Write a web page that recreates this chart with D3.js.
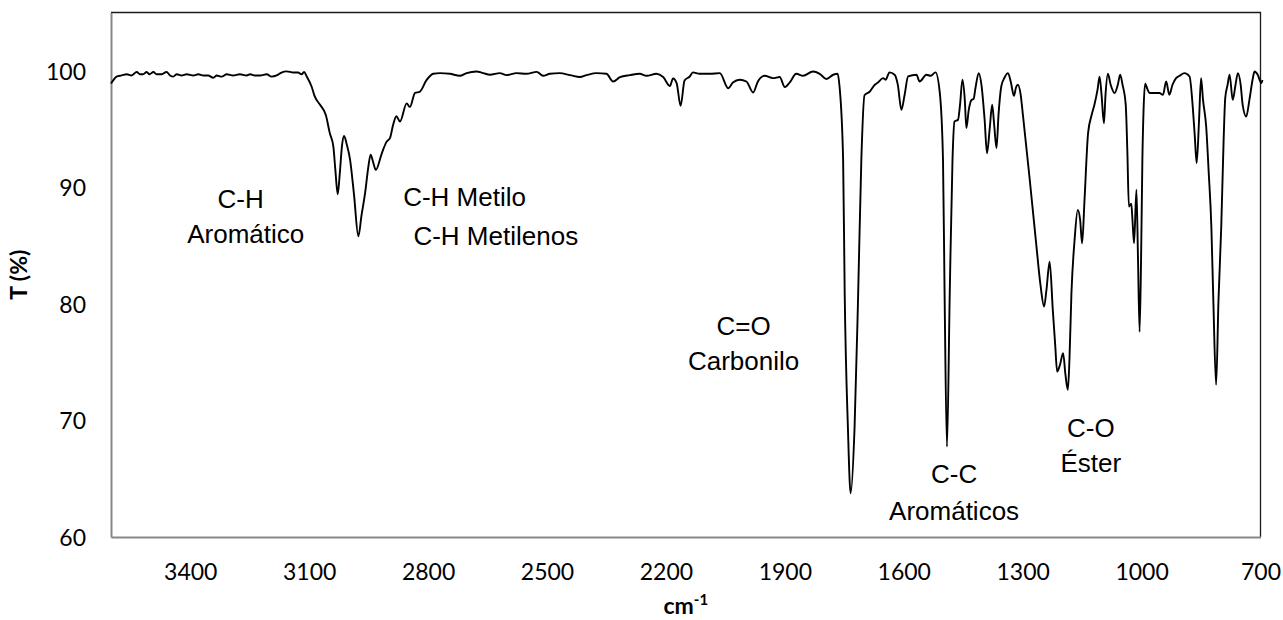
<!DOCTYPE html>
<html>
<head>
<meta charset="utf-8">
<script src="https://cdn.jsdelivr.net/npm/d3@7"></script>
<style>
  html, body { margin: 0; padding: 0; background: #fff; }
  svg { display: block; }
</style>
</head>
<body>
<svg id="chart" width="1283" height="620"></svg>
<script>
// FTIR spectrum: wavenumber (cm-1) and transmittance (%)
const wavenumber = [
  3600, 3594, 3586, 3573, 3560, 3548, 3535, 3527, 3519, 3510, 3503, 3493, 3485, 3472, 3460,
  3451, 3443, 3434, 3422, 3409, 3392, 3380, 3367, 3355, 3342, 3333, 3321, 3308, 3292, 3275,
  3258, 3249, 3237, 3224, 3207, 3195, 3182, 3170, 3157, 3140, 3128, 3119, 3113, 3106, 3094,
  3086, 3073, 3058, 3048, 3039, 3034, 3028, 3023, 3017, 3012, 3005, 2997, 2987, 2976, 2968,
  2959, 2951, 2945, 2939, 2932, 2917, 2905, 2896, 2888, 2880, 2871, 2854, 2846, 2833, 2821,
  2804, 2787, 2770, 2745, 2720, 2703, 2678, 2661, 2644, 2619, 2602, 2577, 2552, 2526, 2510,
  2493, 2468, 2442, 2417, 2400, 2375, 2350, 2333, 2316, 2291, 2266, 2249, 2224, 2207, 2190,
  2182, 2173, 2163, 2153, 2140, 2132, 2115, 2089, 2064, 2043, 2031, 2014, 1997, 1980, 1968,
  1951, 1930, 1913, 1900, 1888, 1871, 1854, 1829, 1812, 1795, 1778, 1767, 1762, 1753, 1749,
  1741, 1734, 1724, 1715, 1707, 1699, 1686, 1673, 1666, 1652, 1646, 1636, 1623, 1615, 1606,
  1598, 1589, 1568, 1560, 1543, 1532, 1520, 1509, 1501, 1497, 1491, 1484, 1477, 1472, 1463,
  1458, 1452, 1446, 1442, 1436, 1429, 1424, 1419, 1411, 1404, 1396, 1390, 1383, 1377, 1372,
  1366, 1361, 1354, 1346, 1337, 1330, 1322, 1317, 1312, 1305, 1299, 1283, 1266, 1255, 1246,
  1240, 1232, 1224, 1218, 1213, 1206, 1198, 1192, 1186, 1182, 1177, 1169, 1161, 1155, 1150,
  1144, 1135, 1126, 1119, 1111, 1106, 1101, 1095, 1091, 1085, 1078, 1068, 1060, 1054, 1048,
  1040, 1036, 1032, 1026, 1023, 1019, 1013, 1009, 1005, 1001, 998, 995, 991, 985, 980,
  967, 955, 946, 938, 930, 922, 913, 904, 892, 879, 871, 866, 861, 855, 850,
  845, 837, 831, 824, 819, 812, 806, 799, 793, 789, 783, 778, 770, 763, 757,
  750, 745, 736, 728, 720, 715, 707, 698, 695
];
const transmittance = [
  98.9, 99.2, 99.5, 99.6, 99.7, 99.6, 99.9, 99.7, 99.7, 99.9, 99.7, 99.9, 99.7, 99.7, 99.9,
  99.6, 99.5, 99.7, 99.6, 99.7, 99.6, 99.7, 99.6, 99.6, 99.4, 99.6, 99.5, 99.7, 99.6, 99.7,
  99.6, 99.7, 99.6, 99.6, 99.7, 99.5, 99.6, 99.85, 99.95, 99.85, 99.85, 99.7, 99.9, 99.5, 98.65,
  97.8, 97.1, 96.2, 94.65, 93.5, 91.5, 89.4, 91.1, 93.65, 94.4, 93.65, 92.4, 89.4, 85.8, 87.6,
  89.5, 91.7, 92.8, 92.2, 91.5, 92.9, 93.9, 94.25, 95.4, 96.1, 95.65, 97.2, 96.9, 98.1, 98.2,
  99.2, 99.75, 99.8, 99.74, 99.57, 99.8, 99.94, 99.8, 99.66, 99.8, 99.63, 99.8, 99.74, 99.91, 99.57,
  99.74, 99.8, 99.63, 99.46, 99.63, 99.8, 99.74, 99.08, 99.46, 99.63, 99.74, 99.57, 99.74, 99.46, 98.7,
  99.34, 98.94, 97.0, 99.17, 99.51, 99.86, 99.74, 99.74, 99.8, 98.5, 98.99, 99.23, 99.08, 98.14, 99.08,
  99.57, 99.37, 99.46, 98.6, 98.99, 99.74, 99.57, 99.94, 99.74, 99.29, 99.66, 99.74, 98.65, 92.4, 80.9,
  69.5, 63.75, 69.5, 80.9, 92.4, 97.9, 98.2, 98.8, 98.97, 99.37, 99.23, 99.86, 99.66, 98.8, 96.65,
  97.9, 99.51, 99.66, 99.08, 99.66, 99.57, 99.86, 98.09, 92.36, 80.9, 67.75, 80.9, 92.4, 95.65, 95.8,
  97.1, 99.23, 97.5, 95.08, 96.65, 97.5, 97.57, 98.54, 99.8, 98.8, 95.8, 92.93, 95.1, 97.08, 95.4,
  93.36, 96.2, 98.65, 99.4, 99.8, 99.06, 97.85, 98.54, 98.8, 97.94, 96.08, 90.93, 85.2, 81.6, 79.77,
  81.2, 83.63, 79.49, 76.5, 74.19, 74.76, 75.77, 73.9, 72.62, 75.2, 80.9, 85.5, 88.07, 87.2, 85.2,
  88.9, 94.65, 96.2, 97.08, 98.4, 99.5, 97.94, 95.5, 97.94, 99.74, 98.8, 98.09, 98.8, 99.66, 98.8,
  97.08, 93.2, 88.35, 88.6, 87.2, 85.2, 89.8, 83.8, 77.6, 84.6, 92.36, 96.65, 98.9, 98.4, 98.09,
  98.09, 98.09, 97.94, 99.08, 97.94, 98.8, 99.37, 99.57, 99.8, 99.51, 96.94, 94.5, 92.08, 95.8, 99.37,
  97.5, 95.2, 91.5, 86.64, 80.3, 73.05, 80.3, 86.64, 94.08, 97.66, 98.8, 99.66, 97.5, 98.8, 99.8,
  98.8, 97.08, 96.08, 97.5, 99.23, 99.94, 99.66, 98.94, 99.2
];

// Axis ticks and titles
const xTicks = [3400, 3100, 2800, 2500, 2200, 1900, 1600, 1300, 1000, 700];
const yTicks = [60, 70, 80, 90, 100];
const xDomain = [3600, 700];
const yDomain = [60, 105];
const yTitle = "T (%)";
const xTitle = "cm";
const xTitleSup = "-1";

// Band assignments written on the plot
const bandLabels = [
  "C-H", "Aromático",
  "C-H Metilo", "C-H Metilenos",
  "C=O", "Carbonilo",
  "C-C", "Aromáticos",
  "C-O", "Éster"
];

const svg = d3.select("#chart");
const plot = { left: 111, right: 1260.5, top: 12.5, bottom: 537 };

const x = d3.scaleLinear().domain(xDomain).range([plot.left, plot.right]);
const y = d3.scaleLinear().domain(yDomain).range([plot.bottom, plot.top]);

const tickFont = "Lato, 'Open Sans', sans-serif";
const labelFont = "'Liberation Sans', Arial, sans-serif";

// Plot-area border (top and right)
svg.append("path")
  .attr("d", `M${plot.left},${plot.top}H${plot.right}V${plot.bottom}`)
  .attr("fill", "none")
  .attr("stroke", "#1a1a1a")
  .attr("stroke-width", 1.3);

// Y axis
const yAxis = svg.append("g")
  .attr("transform", `translate(${plot.left},0)`)
  .call(d3.axisLeft(y).tickValues(yTicks).tickSize(0).tickPadding(25).tickFormat(d3.format("d")));
yAxis.select(".domain").attr("stroke", "#878787").attr("stroke-width", 2);
yAxis.selectAll("text")
  .attr("font-family", tickFont)
  .attr("font-size", 23)
  .attr("fill", "#000")
  .attr("dy", "0.36em");

// X axis
const xAxis = svg.append("g")
  .attr("transform", `translate(0,${plot.bottom})`)
  .call(d3.axisBottom(x).tickValues(xTicks).tickSize(0).tickPadding(27).tickFormat(d3.format("d")));
xAxis.select(".domain").attr("stroke", "#878787").attr("stroke-width", 2);
xAxis.selectAll("text")
  .attr("font-family", tickFont)
  .attr("font-size", 23)
  .attr("fill", "#000")
  .attr("dy", "0.71em");

// Spectrum line
const points = wavenumber.map((w, i) => [w, transmittance[i]]);
svg.append("path")
  .datum(points)
  .attr("fill", "none")
  .attr("stroke", "#000")
  .attr("stroke-width", 1.9)
  .attr("stroke-linejoin", "round")
  .attr("d", d3.line().x(d => x(d[0])).y(d => y(d[1])).curve(d3.curveMonotoneX));

// Band labels, anchored in data coordinates (wavenumber, transmittance)
const bandPlacement = [
  { w: 3273, t: 88.2, anchor: "middle" },
  { w: 3260, t: 85.2, anchor: "middle" },
  { w: 2863, t: 88.4, anchor: "start" },
  { w: 2837, t: 85.05, anchor: "start" },
  { w: 2004, t: 77.33, anchor: "middle" },
  { w: 2004, t: 74.37, anchor: "middle" },
  { w: 1473, t: 64.6, anchor: "middle" },
  { w: 1473, t: 61.5, anchor: "middle" },
  { w: 1128, t: 68.6, anchor: "middle" },
  { w: 1128, t: 65.6, anchor: "middle" }
];
svg.append("g")
  .selectAll("text")
  .data(bandLabels)
  .join("text")
  .attr("x", (d, i) => x(bandPlacement[i].w))
  .attr("y", (d, i) => y(bandPlacement[i].t))
  .attr("text-anchor", (d, i) => bandPlacement[i].anchor)
  .attr("font-family", labelFont)
  .attr("font-size", 26)
  .attr("fill", "#000")
  .text(d => d);

// Axis titles
svg.append("text")
  .attr("transform", `translate(27,${(plot.top + plot.bottom) / 2}) rotate(-90)`)
  .attr("text-anchor", "middle")
  .attr("font-family", tickFont)
  .attr("font-weight", "bold")
  .attr("font-size", 23)
  .attr("fill", "#000")
  .text(yTitle);

const xt = svg.append("text")
  .attr("x", (plot.left + plot.right) / 2)
  .attr("y", 614)
  .attr("text-anchor", "middle")
  .attr("font-family", tickFont)
  .attr("font-weight", "bold")
  .attr("font-size", 23)
  .attr("fill", "#000");
xt.append("tspan").text(xTitle);
xt.append("tspan").attr("dy", -9).attr("font-size", 15).text(xTitleSup);
</script>
</body>
</html>
